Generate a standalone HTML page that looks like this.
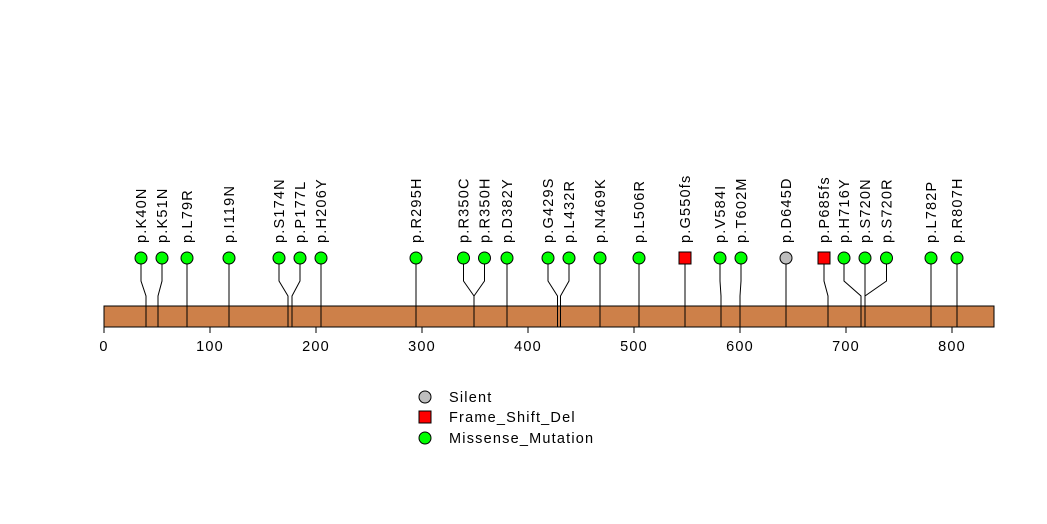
<!DOCTYPE html>
<html><head><meta charset="utf-8"><style>
html,body{margin:0;padding:0;background:#fff;}
svg{display:block;font-family:"Liberation Sans",sans-serif;}
</style></head><body>
<svg width="1047" height="524" viewBox="0 0 1047 524" xmlns="http://www.w3.org/2000/svg">
<rect x="104" y="306" width="890" height="21" fill="#cd8049" stroke="#000" stroke-width="1"/>
<g stroke="#000" stroke-width="1" fill="none">
<polyline points="141,258 141,281 146,296 146,327"/>
<polyline points="162,258 162,281 158,296 158,327"/>
<polyline points="187,258 187,327"/>
<polyline points="229,258 229,327"/>
<polyline points="279,258 279,281 288,296 288,327"/>
<polyline points="300,258 300,281 292,296 292,327"/>
<polyline points="321,258 321,327"/>
<polyline points="416,258 416,327"/>
<polyline points="463.5,258 463.5,281 474,296 474,327"/>
<polyline points="484.5,258 484.5,281 474,296 474,327"/>
<polyline points="507,258 507,327"/>
<polyline points="548,258 548,281 557.5,296 557.5,327"/>
<polyline points="569,258 569,281 560.5,296 560.5,327"/>
<polyline points="600,258 600,327"/>
<polyline points="639,258 639,327"/>
<polyline points="685,258 685,327"/>
<polyline points="720,258 720,281 721,296 721,327"/>
<polyline points="741,258 741,281 740,296 740,327"/>
<polyline points="786,258 786,327"/>
<polyline points="824,258 824,281 828,296 828,327"/>
<polyline points="844,258 844,281 861,296 861,327"/>
<polyline points="865,258 865,327"/>
<polyline points="886.5,258 886.5,281 865,296 865,327"/>
<polyline points="931,258 931,327"/>
<polyline points="957,258 957,327"/>
<line x1="104" y1="327" x2="104" y2="333"/>
<line x1="210" y1="327" x2="210" y2="333"/>
<line x1="316" y1="327" x2="316" y2="333"/>
<line x1="422" y1="327" x2="422" y2="333"/>
<line x1="528" y1="327" x2="528" y2="333"/>
<line x1="634" y1="327" x2="634" y2="333"/>
<line x1="740" y1="327" x2="740" y2="333"/>
<line x1="846" y1="327" x2="846" y2="333"/>
<line x1="952" y1="327" x2="952" y2="333"/>
</g>
<g font-size="14.5" letter-spacing="1.2" text-anchor="middle" fill="#000">
<text x="104" y="351">0</text><text x="210" y="351">100</text><text x="316" y="351">200</text>
<text x="422" y="351">300</text><text x="528" y="351">400</text><text x="634" y="351">500</text>
<text x="740" y="351">600</text><text x="846" y="351">700</text><text x="952" y="351">800</text>
</g>
<g stroke="#000" stroke-width="1">
<circle cx="141" cy="258" r="6" fill="#00ff00"/>
<circle cx="162" cy="258" r="6" fill="#00ff00"/>
<circle cx="187" cy="258" r="6" fill="#00ff00"/>
<circle cx="229" cy="258" r="6" fill="#00ff00"/>
<circle cx="279" cy="258" r="6" fill="#00ff00"/>
<circle cx="300" cy="258" r="6" fill="#00ff00"/>
<circle cx="321" cy="258" r="6" fill="#00ff00"/>
<circle cx="416" cy="258" r="6" fill="#00ff00"/>
<circle cx="463.5" cy="258" r="6" fill="#00ff00"/>
<circle cx="484.5" cy="258" r="6" fill="#00ff00"/>
<circle cx="507" cy="258" r="6" fill="#00ff00"/>
<circle cx="548" cy="258" r="6" fill="#00ff00"/>
<circle cx="569" cy="258" r="6" fill="#00ff00"/>
<circle cx="600" cy="258" r="6" fill="#00ff00"/>
<circle cx="639" cy="258" r="6" fill="#00ff00"/>
<rect x="679" y="252" width="12" height="12" fill="#ff0000"/>
<circle cx="720" cy="258" r="6" fill="#00ff00"/>
<circle cx="741" cy="258" r="6" fill="#00ff00"/>
<circle cx="786" cy="258" r="6" fill="#bebebe"/>
<rect x="818" y="252" width="12" height="12" fill="#ff0000"/>
<circle cx="844" cy="258" r="6" fill="#00ff00"/>
<circle cx="865" cy="258" r="6" fill="#00ff00"/>
<circle cx="886.5" cy="258" r="6" fill="#00ff00"/>
<circle cx="931" cy="258" r="6" fill="#00ff00"/>
<circle cx="957" cy="258" r="6" fill="#00ff00"/>
</g>
<g font-size="14.5" letter-spacing="1.2" fill="#000">
<text transform="translate(146,243) rotate(-90)">p.K40N</text>
<text transform="translate(167,243) rotate(-90)">p.K51N</text>
<text transform="translate(192,243) rotate(-90)">p.L79R</text>
<text transform="translate(234,243) rotate(-90)">p.I119N</text>
<text transform="translate(284,243) rotate(-90)">p.S174N</text>
<text transform="translate(305,243) rotate(-90)">p.P177L</text>
<text transform="translate(326,243) rotate(-90)">p.H206Y</text>
<text transform="translate(421,243) rotate(-90)">p.R295H</text>
<text transform="translate(468.5,243) rotate(-90)">p.R350C</text>
<text transform="translate(489.5,243) rotate(-90)">p.R350H</text>
<text transform="translate(512,243) rotate(-90)">p.D382Y</text>
<text transform="translate(553,243) rotate(-90)">p.G429S</text>
<text transform="translate(574,243) rotate(-90)">p.L432R</text>
<text transform="translate(605,243) rotate(-90)">p.N469K</text>
<text transform="translate(644,243) rotate(-90)">p.L506R</text>
<text transform="translate(690,243) rotate(-90)">p.G550fs</text>
<text transform="translate(725,243) rotate(-90)">p.V584I</text>
<text transform="translate(746,243) rotate(-90)">p.T602M</text>
<text transform="translate(791,243) rotate(-90)">p.D645D</text>
<text transform="translate(829,243) rotate(-90)">p.P685fs</text>
<text transform="translate(849,243) rotate(-90)">p.H716Y</text>
<text transform="translate(870,243) rotate(-90)">p.S720N</text>
<text transform="translate(891.5,243) rotate(-90)">p.S720R</text>
<text transform="translate(936,243) rotate(-90)">p.L782P</text>
<text transform="translate(962,243) rotate(-90)">p.R807H</text>
</g>
<g stroke="#000" stroke-width="1">
<circle cx="425" cy="397" r="6" fill="#bebebe"/>
<rect x="419" y="411" width="12" height="12" fill="#ff0000"/>
<circle cx="425" cy="438" r="6" fill="#00ff00"/>
</g>
<g font-size="14.5" letter-spacing="1.2" fill="#000">
<text x="449" y="402">Silent</text>
<text x="449" y="422">Frame_Shift_Del</text>
<text x="449" y="443">Missense_Mutation</text>
</g>
</svg>
</body></html>
